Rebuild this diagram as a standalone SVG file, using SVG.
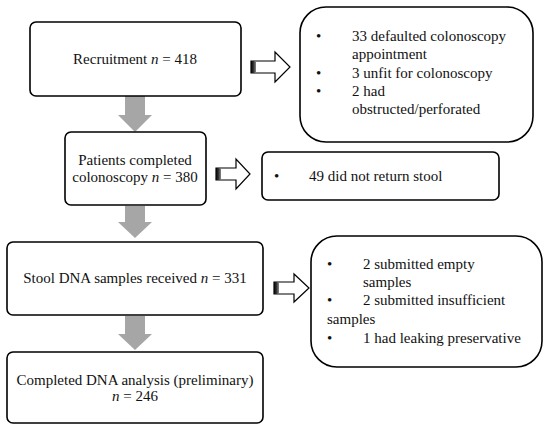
<svg xmlns="http://www.w3.org/2000/svg" width="550" height="431" viewBox="0 0 550 431">
<defs>
<style>
.box{fill:#fff;stroke:#000;stroke-width:1.6}
.t{font-family:"Liberation Serif",serif;font-size:15px;fill:#111}
.c{text-anchor:middle}
.g{fill:#a6a6a6}
.h{fill:#fff;stroke:#000;stroke-width:1.2}
</style>
<linearGradient id="tail" x1="0" x2="1" y1="0" y2="0">
<stop offset="0" stop-color="#000"/>
<stop offset="0.5" stop-color="#333"/>
<stop offset="1" stop-color="#888"/>
</linearGradient>
</defs>
<rect width="550" height="431" fill="#fff"/>
<g id="connectors">
<polygon class="g" points="125,96 145,96 145,115 152,115 135,132 118,115 125,115"/>
<polygon class="g" points="125,206 145,206 145,222 152,222 135,238 118,222 125,222"/>
<polygon class="g" points="125,316 145,316 145,334 152,334 135,350 118,334 125,334"/>
<g>
<polygon class="h" points="251,61 275,61 275,52 290,67 275,82 275,73 251,73"/>
<rect x="251" y="61" width="5" height="12" fill="url(#tail)"/>
</g>
<g>
<polygon class="h" points="216,168 236,168 236,159 250,174 236,189 236,180 216,180"/>
<rect x="216" y="168" width="5" height="12" fill="url(#tail)"/>
</g>
<g>
<polygon class="h" points="274,282 294,282 294,274 309,288 294,302 294,294 274,294"/>
<rect x="274" y="282" width="5" height="12" fill="url(#tail)"/>
</g>
</g>
<g id="recruitment">
<rect class="box" x="30" y="22" width="211" height="74" rx="6"/>
<text class="t c" x="135" y="64">Recruitment <tspan font-style="italic">n</tspan> = 418</text>
</g>
<g id="colonoscopy">
<rect class="box" x="65" y="132" width="141" height="73" rx="6"/>
<text class="t c" x="135" y="165">Patients completed</text>
<text class="t c" x="135" y="182">colonoscopy <tspan font-style="italic">n</tspan> = 380</text>
</g>
<g id="stool">
<rect class="box" x="7" y="242" width="256" height="73" rx="6"/>
<text class="t c" x="135" y="283">Stool DNA samples received <tspan font-style="italic">n</tspan> = 331</text>
</g>
<g id="analysis">
<rect class="box" x="7" y="352" width="256" height="71" rx="6"/>
<text class="t c" x="135" y="385">Completed DNA analysis (preliminary)</text>
<text class="t c" x="135" y="401"><tspan font-style="italic">n</tspan> = 246</text>
</g>
<g id="excl1">
<rect class="box" x="300" y="7" width="233" height="135" rx="26"/>
<text class="t" x="316" y="41">•</text>
<text class="t" x="352" y="41">33 defaulted colonoscopy</text>
<text class="t" x="352" y="59">appointment</text>
<text class="t" x="316" y="78">•</text>
<text class="t" x="352" y="78">3 unfit for colonoscopy</text>
<text class="t" x="316" y="96">•</text>
<text class="t" x="352" y="96">2 had</text>
<text class="t" x="352" y="114">obstructed/perforated</text>
</g>
<g id="excl2">
<rect class="box" x="262" y="152" width="237" height="48" rx="6"/>
<text class="t" x="274" y="181">•</text>
<text class="t" x="309" y="181">49 did not return stool</text>
</g>
<g id="excl3">
<rect class="box" x="311" y="236" width="231" height="131" rx="26"/>
<text class="t" x="327" y="269">•</text>
<text class="t" x="363" y="269">2 submitted empty</text>
<text class="t" x="363" y="287">samples</text>
<text class="t" x="327" y="305">•</text>
<text class="t" x="363" y="305">2 submitted insufficient</text>
<text class="t" x="327" y="324">samples</text>
<text class="t" x="327" y="343">•</text>
<text class="t" x="363" y="343">1 had leaking preservative</text>
</g>
</svg>
